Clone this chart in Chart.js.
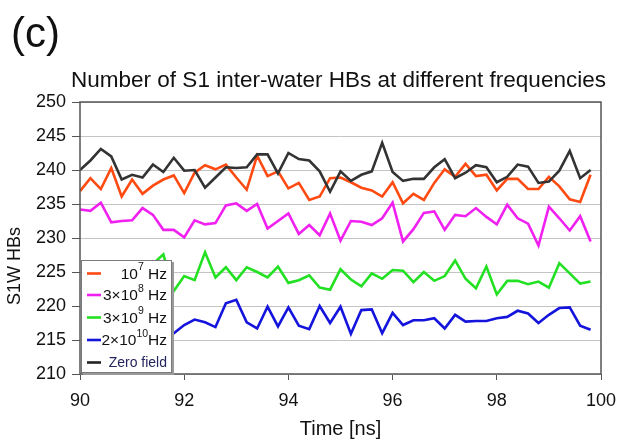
<!DOCTYPE html>
<html>
<head>
<meta charset="utf-8">
<script src="https://cdn.jsdelivr.net/npm/chart.js@4.4.1/dist/chart.umd.min.js"></script>
<style>
  html, body { margin: 0; padding: 0; background: #ffffff; }
  #wrap { width: 617px; height: 441px; }
</style>
</head>
<body>
<div id="wrap"><canvas id="c" width="617" height="441"></canvas></div>
<script>
// ---- data ----
const times = [90.0, 90.2, 90.4, 90.6, 90.8, 91.0, 91.2, 91.4, 91.6, 91.8,
               92.0, 92.2, 92.4, 92.6, 92.8, 93.0, 93.2, 93.4, 93.6, 93.8,
               94.0, 94.2, 94.4, 94.6, 94.8, 95.0, 95.2, 95.4, 95.6, 95.8,
               96.0, 96.2, 96.4, 96.6, 96.8, 97.0, 97.2, 97.4, 97.6, 97.8,
               98.0, 98.2, 98.4, 98.6, 98.8, 99.0, 99.2, 99.4, 99.6, 99.8];

const hz1e7 = [236.9, 238.8, 237.2, 240.3, 236.1, 238.6, 236.5, 237.7, 238.6, 239.2,
               236.6, 239.6, 240.7, 240.1, 240.8, 238.9, 237.1, 242.1, 239.1, 239.8,
               237.3, 238.1, 235.6, 236.1, 238.8, 238.9, 238.2, 237.4, 237.0, 236.1,
               238.2, 235.1, 236.5, 235.6, 238.1, 240.1, 239.0, 240.9, 239.1, 239.3,
               237.0, 238.7, 238.7, 237.2, 237.2, 239.0, 237.6, 235.7, 235.3, 239.3];

const hz3e8 = [234.2, 234.0, 235.2, 232.3, 232.5, 232.6, 234.4, 233.4, 231.2, 231.2,
               230.1, 232.6, 232.0, 232.2, 234.8, 235.1, 234.0, 235.0, 231.4, 232.5,
               233.6, 230.6, 231.9, 230.4, 233.6, 229.6, 232.5, 232.4, 231.9, 232.9,
               235.2, 229.5, 231.3, 233.7, 233.9, 231.2, 233.4, 233.2, 234.4, 233.1,
               232.0, 234.9, 232.9, 232.1, 228.9, 234.6, 232.9, 231.1, 233.2, 229.5];

// first points are hidden behind the legend in the reference
const hz3e9 = [null, null, null, null, null, null, null, 226.2, 227.6, 222.2,
               224.4, 223.8, 227.9, 224.2, 225.7, 223.8, 225.7, 225.0, 224.2, 225.8,
               223.4, 223.8, 224.5, 222.7, 222.4, 225.4, 223.9, 222.9, 224.8, 224.0,
               225.3, 225.2, 223.5, 225.0, 223.7, 224.4, 226.7, 224.0, 222.6, 225.8,
               221.7, 223.7, 223.7, 223.2, 223.6, 222.7, 226.3, 224.8, 223.3, 223.6];

const hz2e10 = [null, null, null, null, null, null, null, null, 215.6, 216.0,
                217.2, 218.0, 217.6, 216.9, 220.4, 220.9, 217.6, 216.7, 219.9, 217.0,
                219.8, 217.1, 216.6, 220.0, 217.5, 219.9, 215.9, 219.4, 219.5, 216.0,
                219.0, 217.2, 217.9, 217.9, 218.2, 216.7, 218.7, 217.7, 217.8, 217.8,
                218.2, 218.4, 219.3, 218.9, 217.5, 218.7, 219.7, 219.8, 217.1, 216.5];

const zeroField = [240.0, 241.4, 243.1, 242.0, 238.6, 239.3, 238.9, 240.8, 239.7, 241.8,
                   239.9, 240.0, 237.4, 238.9, 240.4, 240.3, 240.4, 242.3, 242.3, 239.5,
                   242.5, 241.6, 241.4, 239.8, 236.8, 239.8, 238.4, 239.3, 239.8, 244.0,
                   239.7, 238.4, 238.7, 238.7, 240.4, 241.6, 238.8, 239.6, 240.7, 240.4,
                   238.2, 239.0, 240.8, 240.5, 238.1, 238.3, 239.9, 242.8, 238.8, 240.0];

const xTicks = [90, 92, 94, 96, 98, 100];
const yTicks = [210, 215, 220, 225, 230, 235, 240, 245, 250];

const panelLabel = "(c)";
const chartTitle = "Number of S1 inter-water HBs at different frequencies";
const xTitle = "Time [ns]";
const yTitle = "S1W HBs";

// legend entries: [base text, superscript, tail]
const legendItems = [
  { parts: [["10", false], ["7", true], [" Hz", false]], color: "#ff4a12", small: false },
  { parts: [["3\u00d710", false], ["8", true], [" Hz", false]], color: "#f020f0", small: false },
  { parts: [["3\u00d710", false], ["9", true], [" Hz", false]], color: "#22e022", small: false },
  { parts: [["2\u00d710", false], ["10", true], ["Hz", false]], color: "#1414dc", small: false },
  { parts: [["Zero field", false]], color: "#222222", small: true }
];

const FONT = "'Liberation Sans', Arial, sans-serif";

function pts(arr) { return times.map((t, i) => ({ x: t, y: arr[i] })); }

const lineStyle = { borderWidth: 2.6, pointRadius: 0, tension: 0, fill: false, spanGaps: false };

const decor = {
  id: 'decor',
  afterDatasetsDraw(chart) {
    const ctx = chart.ctx;
    const a = chart.chartArea;
    ctx.save();
    // frame
    ctx.strokeStyle = '#555555';
    ctx.lineWidth = 1.5;
    ctx.strokeRect(a.left, a.top, a.right - a.left, a.bottom - a.top);

    // legend box
    const lx = 81, ly = 260, lw = 91, lh = 113;
    ctx.fillStyle = '#9a9a9a';
    ctx.fillRect(lx + 2, ly + 2, lw, lh);
    ctx.fillStyle = '#ffffff';
    ctx.fillRect(lx, ly, lw, lh);
    ctx.strokeStyle = '#7a7a7a';
    ctx.lineWidth = 1;
    ctx.strokeRect(lx + 0.5, ly + 0.5, lw - 1, lh - 1);

    const rowsY = [273.5, 295, 317.5, 340, 362.5];
    legendItems.forEach((it, k) => {
      const y = rowsY[k];
      ctx.strokeStyle = it.color;
      ctx.lineWidth = 2.6;
      ctx.beginPath();
      ctx.moveTo(87, y);
      ctx.lineTo(101, y);
      ctx.stroke();
      const mainSize = it.small ? 14 : 15.5;
      const supSize = 10.5;
      // measure
      let total = 0;
      it.parts.forEach(([t, sup]) => {
        ctx.font = (sup ? supSize : mainSize) + 'px ' + FONT;
        total += ctx.measureText(t).width;
      });
      let x = 167 - total;
      ctx.textBaseline = 'middle';
      ctx.textAlign = 'left';
      ctx.fillStyle = it.small ? '#24245e' : '#111111';
      it.parts.forEach(([t, sup]) => {
        ctx.font = (sup ? supSize : mainSize) + 'px ' + FONT;
        ctx.fillText(t, x, sup ? y - 6 : y + 1);
        x += ctx.measureText(t).width;
      });
    });
    ctx.restore();
  },
  afterDraw(chart) {
    const ctx = chart.ctx;
    ctx.save();
    ctx.fillStyle = '#111111';
    ctx.textBaseline = 'alphabetic';
    ctx.textAlign = 'left';
    ctx.font = '42px ' + FONT;
    ctx.fillText(panelLabel, 11, 47);
    ctx.textAlign = 'center';
    ctx.font = '22.5px ' + FONT;
    ctx.fillText(chartTitle, 338.5, 87);
    ctx.font = '20px ' + FONT;
    ctx.textBaseline = 'middle';
    ctx.fillText(xTitle, 340.5, 429);
    ctx.translate(15, 266);
    ctx.rotate(-Math.PI / 2);
    ctx.font = '18px ' + FONT;
    ctx.fillText(yTitle, 0, 0);
    ctx.restore();
  }
};

new Chart(document.getElementById('c'), {
  type: 'line',
  data: {
    datasets: [
      Object.assign({ label: 'Zero field', data: pts(zeroField), borderColor: '#333333' }, lineStyle),
      Object.assign({ label: '2x10^10 Hz', data: pts(hz2e10), borderColor: '#1414dc' }, lineStyle),
      Object.assign({ label: '3x10^9 Hz', data: pts(hz3e9), borderColor: '#22e022' }, lineStyle),
      Object.assign({ label: '3x10^8 Hz', data: pts(hz3e8), borderColor: '#f020f0' }, lineStyle),
      Object.assign({ label: '10^7 Hz', data: pts(hz1e7), borderColor: '#ff4a12' }, lineStyle)
    ]
  },
  options: {
    responsive: false,
    animation: false,
    devicePixelRatio: 1,
    layout: { padding: { top: 102, right: 16, left: 0, bottom: 0 } },
    plugins: { legend: { display: false }, tooltip: { enabled: false }, title: { display: false } },
    scales: {
      x: {
        type: 'linear', min: 90, max: 100,
        afterBuildTicks(s) { s.ticks = xTicks.map(v => ({ value: v })); },
        afterFit(s) { s.height = 67; s.paddingLeft = 0; s.paddingRight = 0; },
        ticks: { font: { size: 18, family: FONT }, color: '#111111', padding: 10, maxRotation: 0, autoSkip: false },
        grid: { drawOnChartArea: false, drawTicks: true, tickLength: 6, tickColor: '#555555', color: '#555555' },
        border: { display: false }
      },
      y: {
        min: 210, max: 250,
        afterBuildTicks(s) { s.ticks = yTicks.map(v => ({ value: v })); },
        afterFit(s) { s.width = 80; s.paddingTop = 0; s.paddingBottom = 0; },
        ticks: { font: { size: 18, family: FONT }, color: '#111111', padding: 6 },
        grid: { color: '#c4c4c4', lineWidth: 1, tickLength: 8, tickColor: '#555555' },
        border: { display: false }
      }
    }
  },
  plugins: [decor]
});
</script>
</body>
</html>
